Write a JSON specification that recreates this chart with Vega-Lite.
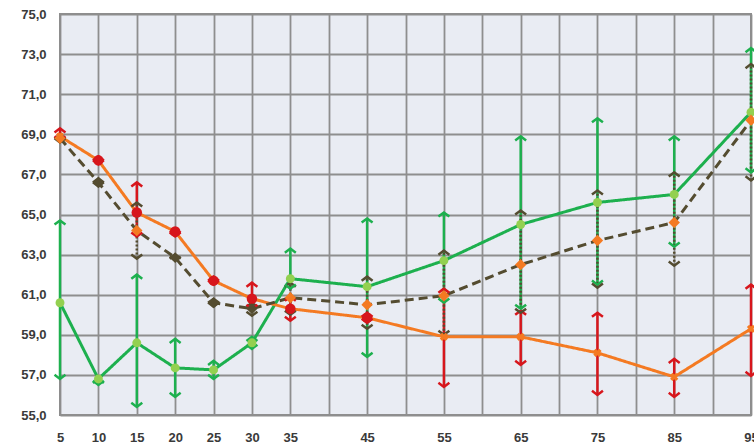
{
  "$schema": "https://vega.github.io/schema/vega-lite/v6.json",
  "autosize": {"type": "none"},
  "width": 691,
  "height": 401,
  "padding": {"left": 60, "top": 14, "right": 3, "bottom": 31},
  "background": "#ffffff",
  "config": {
    "view": {"fill": "#E9ECF3", "stroke": "#8E8E8E", "strokeWidth": 2},
    "axis": {"labelFont": "Liberation Sans", "labelFontWeight": "bold", "labelFontSize": 13, "labelColor": "#3a3a3a", "gridColor": "#8E8E8E", "gridWidth": 1.8, "gridOpacity": 1, "domain": false, "ticks": false, "title": null, "labelFlush": false, "labelOverlap": false}
  },
  "data": {"values": [
    {"age": 5, "s": "G", "v": 60.6, "lo": 56.8, "hi": 64.7},
    {"age": 10, "s": "G", "v": 56.8, "lo": 56.5, "hi": 56.8},
    {"age": 15, "s": "G", "v": 58.6, "lo": 55.4, "hi": 62.0},
    {"age": 20, "s": "G", "v": 57.35, "lo": 55.9, "hi": 58.8},
    {"age": 25, "s": "G", "v": 57.25, "lo": 56.8, "hi": 57.7},
    {"age": 30, "s": "G", "v": 58.6, "lo": 58.3, "hi": 58.9},
    {"age": 35, "s": "G", "v": 61.8, "lo": 61.3, "hi": 63.3},
    {"age": 45, "s": "G", "v": 61.4, "lo": 57.9, "hi": 64.8},
    {"age": 55, "s": "G", "v": 62.7, "lo": 60.6, "hi": 65.1},
    {"age": 65, "s": "G", "v": 64.5, "lo": 60.3, "hi": 68.9},
    {"age": 75, "s": "G", "v": 65.6, "lo": 61.5, "hi": 69.8},
    {"age": 85, "s": "G", "v": 66.0, "lo": 63.4, "hi": 68.9},
    {"age": 95, "s": "G", "v": 70.1, "lo": 67.1, "hi": 73.3},
    {"age": 5, "s": "O", "v": 68.9, "lo": 68.7, "hi": 69.3},
    {"age": 10, "s": "O", "v": 67.7, "lo": 67.5, "hi": 67.9},
    {"age": 15, "s": "O", "v": 65.1, "lo": 63.9, "hi": 66.6},
    {"age": 20, "s": "O", "v": 64.15, "lo": 63.9, "hi": 64.3},
    {"age": 25, "s": "O", "v": 61.7, "lo": 61.5, "hi": 61.9},
    {"age": 30, "s": "O", "v": 60.8, "lo": 60.3, "hi": 61.6},
    {"age": 35, "s": "O", "v": 60.3, "lo": 59.7, "hi": 60.9},
    {"age": 45, "s": "O", "v": 59.85, "lo": 59.6, "hi": 60.1},
    {"age": 55, "s": "O", "v": 58.9, "lo": 56.4, "hi": 61.3},
    {"age": 65, "s": "O", "v": 58.9, "lo": 57.5, "hi": 60.2},
    {"age": 75, "s": "O", "v": 58.1, "lo": 56.0, "hi": 60.1},
    {"age": 85, "s": "O", "v": 56.9, "lo": 55.9, "hi": 57.8},
    {"age": 95, "s": "O", "v": 59.3, "lo": 56.95, "hi": 61.5},
    {"age": 5, "s": "D", "v": 68.8, "lo": 68.6, "hi": 69.0},
    {"age": 10, "s": "D", "v": 66.6, "lo": 66.4, "hi": 66.8},
    {"age": 15, "s": "D", "v": 64.2, "lo": 62.8, "hi": 65.6},
    {"age": 20, "s": "D", "v": 62.85, "lo": 62.7, "hi": 63.0},
    {"age": 25, "s": "D", "v": 60.6, "lo": 60.4, "hi": 60.8},
    {"age": 30, "s": "D", "v": 60.3, "lo": 59.95, "hi": 60.6},
    {"age": 35, "s": "D", "v": 60.85, "lo": 60.0, "hi": 61.6},
    {"age": 45, "s": "D", "v": 60.5, "lo": 59.3, "hi": 61.9},
    {"age": 55, "s": "D", "v": 60.95, "lo": 59.0, "hi": 63.2},
    {"age": 65, "s": "D", "v": 62.5, "lo": 60.1, "hi": 65.2},
    {"age": 75, "s": "D", "v": 63.7, "lo": 61.35, "hi": 66.2},
    {"age": 85, "s": "D", "v": 64.6, "lo": 62.45, "hi": 67.1},
    {"age": 95, "s": "D", "v": 69.7, "lo": 66.7, "hi": 72.5}
  ]},
  "encoding": {
    "x": {"field": "age", "type": "quantitative", "scale": {"domain": [5, 95], "nice": false, "zero": false},
      "axis": {"values": [5,10,15,20,25,30,35,40,45,50,55,60,65,70,75,80,85,90,95], "labelPadding": 16, "labelExpr": "indexof([40,50,60,70,80,90], datum.value) >= 0 ? '' : datum.label"}},
    "y": {"field": "v", "type": "quantitative", "scale": {"domain": [55, 75], "nice": false, "zero": false},
      "axis": {"values": [55,57,59,61,63,65,67,69,71,73,75], "labelPadding": 14, "labelExpr": "replace(format(datum.value, '.1f'), '.', ',')"}}
  },
  "layer": [
    {
      "mark": {"type": "line", "strokeWidth": 3},
      "encoding": {
        "color": {"field": "s", "type": "nominal", "scale": {"domain": ["G", "O", "D"], "range": ["#1DB04E", "#F47A22", "#544C30"]}, "legend": null},
        "strokeDash": {"field": "s", "type": "nominal", "scale": {"domain": ["G", "O", "D"], "range": [[1, 0], [1, 0], [9, 5]]}, "legend": null}
      }
    },
    {
      "mark": {"type": "rule", "strokeWidth": 2.5},
      "encoding": {
        "y": {"field": "lo", "type": "quantitative"},
        "y2": {"field": "hi"},
        "color": {"field": "s", "type": "nominal", "scale": {"domain": ["G", "O", "D"], "range": ["#1DB04E", "#D7161C", "#544C30"]}, "legend": null},
        "strokeDash": {"field": "s", "type": "nominal", "scale": {"domain": ["G", "O", "D"], "range": [[1, 0], [1, 0], [2, 2]]}, "legend": null}
      }
    },
    {
      "mark": {"type": "point", "shape": "M-1,0.75L0,0L1,0.75", "size": 120, "filled": false, "strokeWidth": 2.5, "opacity": 1},
      "encoding": {
        "y": {"field": "hi", "type": "quantitative"},
        "color": {"field": "s", "type": "nominal", "scale": {"domain": ["G", "O", "D"], "range": ["#1DB04E", "#D7161C", "#544C30"]}, "legend": null}
      }
    },
    {
      "mark": {"type": "point", "shape": "M-1,-0.75L0,0L1,-0.75", "size": 120, "filled": false, "strokeWidth": 2.5, "opacity": 1},
      "encoding": {
        "y": {"field": "lo", "type": "quantitative"},
        "color": {"field": "s", "type": "nominal", "scale": {"domain": ["G", "O", "D"], "range": ["#1DB04E", "#D7161C", "#544C30"]}, "legend": null}
      }
    },
    {
      "transform": [{"filter": "datum.s == 'G'"}],
      "mark": {"type": "point", "shape": "circle", "filled": true, "size": 80, "color": "#93D050", "opacity": 1}
    },
    {
      "transform": [{"filter": "datum.s == 'O' && datum.age <= 45 && datum.age > 5"}],
      "mark": {"type": "point", "shape": "circle", "filled": true, "size": 110, "color": "#D7161C", "opacity": 1}
    },
    {
      "transform": [{"filter": "datum.s == 'O' && (datum.age > 45 || datum.age == 5)"}],
      "mark": {"type": "point", "shape": "cross", "filled": true, "size": 70, "angle": 45, "color": "#F47A22", "opacity": 1}
    },
    {
      "transform": [{"filter": "datum.s == 'D' && (datum.age == 10 || datum.age == 20 || datum.age == 25 || datum.age == 30)"}],
      "mark": {"type": "point", "shape": "diamond", "filled": true, "size": 120, "color": "#544C30", "opacity": 1}
    },
    {
      "transform": [{"filter": "datum.s == 'D' && !(datum.age == 10 || datum.age == 20 || datum.age == 25 || datum.age == 30)"}],
      "mark": {"type": "point", "shape": "diamond", "filled": true, "size": 130, "color": "#F47A22", "opacity": 1}
    }
  ],
  "resolve": {"scale": {"color": "independent", "strokeDash": "independent"}}
}
